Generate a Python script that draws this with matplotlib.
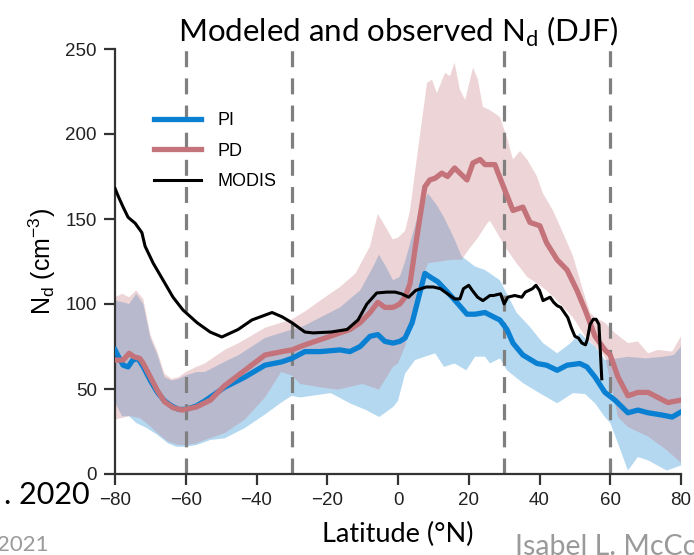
import numpy as np
import matplotlib
matplotlib.use('Agg')
import matplotlib.pyplot as plt

# colours
c_pi = '#0a80d2'
c_pd = '#c4737a'
c_grey = '#7f7f7f'

# MODIS (black)
lat_modis = [-80, -79, -77.7, -76.3, -74.3, -72.4, -71.5, -69.2, -66.4, -63.6,
             -60.8, -56.8, -53.1, -49.8, -45.2, -41.3, -35.6, -32.8, -30, -26.3,
             -24, -19, -14.4, -11.3, -8.8, -6, -3.1, -0.8, 1, 3,
             5, 8, 10, 12, 14, 16, 17.5, 18.5, 20, 21,
             22.5, 24, 26, 27, 29, 30, 31, 33, 35, 36,
             38, 39, 40, 41, 42, 43, 44, 45, 46, 47,
             48, 49, 50, 51, 52, 53, 53.5, 54.3, 55.2, 56,
             56.8, 57.6]
nd_modis = [168, 163, 157, 151, 147.5, 142, 134, 124, 114, 104,
            96.5, 89, 83.5, 80.6, 85, 90.6, 95, 92.5, 89, 83.5,
            83, 83.5, 85, 90.6, 100, 106.5, 107, 107, 106, 104,
            108, 110, 110, 109, 106, 103, 103, 109, 111, 108,
            104, 102, 105, 105, 106, 100, 104, 105, 104, 107,
            109, 111, 108, 102, 103, 104, 101, 99, 98, 95,
            92, 86, 81, 80, 77, 76, 79, 88, 91, 91,
            88, 56]

# PI mean
lat_pi = [-80, -79, -77.7, -76.3, -75, -73.5, -72, -70, -68, -66,
          -64, -62, -60, -57, -54.6, -49, -43.3, -37.6, -32.8, -30,
          -26.3, -22, -16.4, -13.6, -10.7, -7.9, -5.7, -3.7, -1.4, 0.5,
          2, 4, 5.6, 7.6, 9, 11.3, 14, 17, 19.5, 21.8,
          24.6, 27.4, 28.8, 30.8, 32.5, 35.3, 39.3, 42, 45, 47.8,
          51.4, 53.4, 55.7, 58.5, 61.3, 65, 67.8, 70.7, 74.6, 77.5,
          80]
nd_pi = [73, 69, 64, 63, 67, 68, 63, 55, 48, 43,
         40, 38, 38, 40, 43, 51, 57, 64, 66, 68,
         72, 72, 73, 72, 75, 81, 82, 78, 77, 78,
         80, 89, 102, 118, 116, 113, 107, 100, 94, 94,
         95, 92, 90.6, 85, 77, 70, 65, 64, 61, 64,
         65, 63, 57, 48, 43.5, 36, 37.6, 36, 34.7, 33.5,
         36.5]

# PD mean
lat_pd = [-80, -77.7, -76, -74.7, -73, -72, -70, -68, -66, -63.6,
          -61, -57, -53, -49, -43.3, -37.6, -32.8, -30, -26.3, -22,
          -16.4, -13.6, -10.7, -7.9, -5.7, -3.7, -1.4, 0.5, 2, 3.4,
          4.8, 6.2, 7.6, 9, 10.5, 12.4, 14, 16, 18, 19.5,
          21.2, 23.2, 24.6, 27.4, 28.3, 30.2, 32.5, 35.3, 37.3, 40.1,
          42, 45, 47.8, 50.6, 53, 55.7, 58.5, 60, 62.2, 65,
          67.8, 70.7, 73.5, 76.3, 80]
nd_pd = [67, 67, 71, 69, 68, 65, 57, 49, 42.5, 39,
         37.6, 39.4, 43.5, 52, 61, 70, 72, 73, 76, 79,
         83, 85, 89, 95, 101, 98, 98, 100, 104, 112,
         132, 151, 169, 173, 174, 177, 175, 180, 176, 173,
         183, 185, 182, 182, 177, 167, 155, 157, 148, 146,
         136, 126, 120, 108, 96, 81, 73, 70, 57, 46,
         48, 48, 45, 42, 43.5]

# PI spread
lat_pi_hi = [-80, -77.7, -76, -74, -72, -70, -68, -66, -64, -62,
             -60, -57, -54.6, -49, -45, -37.6, -30, -27.7, -22, -16.4,
             -10.7, -7, -5.4, -3.4, -1.4, 0.5, 2, 4, 6, 8.5,
             11, 13, 16, 18, 19.3, 21.8, 24.6, 27.4, 28.8, 30.8,
             33.5, 37.3, 41, 45, 48.8, 51.4, 54, 55.7, 58.5, 62,
             65, 70, 75, 78, 80]
pi_hi = [102, 101, 100, 106, 100, 80, 70, 57, 55, 56,
         58, 60, 60, 66, 70, 80, 85, 86, 92, 98,
         108, 122, 129, 122, 114, 116, 125, 140, 155, 165,
         158, 151, 138, 128, 126, 122, 120, 116, 114, 106,
         95, 86.5, 77, 71, 77, 83, 78, 75, 67, 68,
         69, 68, 69, 70, 75]
lat_pi_lo = [-80, -78, -76, -74, -71, -68, -65, -62.6, -60, -57,
             -53, -49, -43.3, -37.6, -33, -30, -27.7, -19, -13.6, -9,
             -5.3, -1.4, 0, 2, 4.8, 7.6, 10.5, 13, 16, 19.3,
             21.8, 24.6, 26, 28.8, 30.8, 35.3, 40, 45, 49.5, 52.9,
             55.7, 58.5, 60, 62.2, 65, 67.8, 70.7, 76, 80]
pi_lo = [42, 34, 34, 30, 27, 23, 18, 16, 16, 17,
         20, 21, 27, 35, 42, 46, 45, 47.6, 41.6, 37.6,
         33.5, 39.4, 43, 59, 67, 69, 71, 63, 65, 61,
         69, 69, 65, 68, 61, 53.5, 47.6, 41.6, 47.6, 47,
         41.6, 33.5, 30, 18, 2, 10, 8, 2, 5]

# PD spread
lat_pd_hi = [-80, -78, -76, -74, -72, -70, -68, -66, -64, -62,
             -60, -57, -54.6, -49, -45, -37.6, -30, -26, -22, -16.4,
             -12, -7.9, -5.7, -3.4, -1.5, 0, 2, 3.4, 5.6, 8.2,
             9.6, 11, 13.3, 14.7, 16, 17.5, 19, 21.2, 22.6, 24,
             26, 28.8, 30.8, 32.5, 34.5, 36.5, 39.3, 41, 43.8, 46.6,
             49.5, 52.3, 54.3, 55.7, 58.5, 61.3, 65, 67.8, 70.7, 73.5,
             77.5, 80]
pd_hi = [104, 106, 104, 108, 103, 82, 72, 59, 56, 57,
         60, 63, 65, 73, 77, 86, 91, 96, 102, 110,
         118, 134, 153, 145, 138, 139, 143, 155, 190, 230,
         232, 224, 236, 234, 242, 226, 220, 239, 232, 216,
         214, 210, 198, 185, 190, 185, 175, 165, 155, 142,
         128, 108, 95, 92, 89, 83, 77, 78, 71, 73,
         72, 81]
lat_pd_lo = [-80, -78, -76, -73, -70, -68, -65, -62, -60, -57,
             -54.6, -49, -43.3, -37.6, -33, -30, -27.7, -22, -17, -10,
             -5.4, -1.4, 0, 2, 4, 6, 8.5, 12, 15, 18,
             20, 22.6, 25.3, 26, 28.8, 30.8, 33.5, 36.5, 39.3, 42,
             45, 49.5, 52.9, 55.7, 58.5, 60, 62.2, 65, 70.7, 76,
             80]
pd_lo = [32, 33, 34, 33, 28, 24, 19, 17, 17, 18,
         20, 24, 32, 45, 60, 58, 53, 51, 49.6, 53,
         49.6, 63, 65, 75, 92, 110, 124, 125, 126, 126,
         132, 139, 147.6, 149, 139, 132, 124, 116, 112, 108,
         102, 92, 81, 75, 69, 55, 33.5, 27.6, 22, 14,
         6.5]

vlines = [-60, -30, 30, 60]
xticks = [-80, -60, -40, -20, 0, 20, 40, 60, 80]
yticks = [0, 50, 100, 150, 200, 250]


def band(ax, lx_hi, y_hi, lx_lo, y_lo, color):
    xs = np.concatenate([lx_hi, lx_lo[::-1]])
    ys = np.concatenate([y_hi, y_lo[::-1]])
    ax.fill(xs, ys, color=color, alpha=0.3, lw=0)


fig = plt.figure(figsize=(6.94, 5.55), dpi=100)
ax = fig.add_axes([115/694, 1 - 474/555, 566/694, 425/555])

band(ax, lat_pi_hi, pi_hi, lat_pi_lo, pi_lo, c_pi)
band(ax, lat_pd_hi, pd_hi, lat_pd_lo, pd_lo, c_pd)

for v in vlines:
    ax.axvline(v, color=c_grey, lw=2.3, ls=(0, (5, 3.5)), zorder=2)

ax.plot(lat_pi, nd_pi, color=c_pi, lw=3.8, label='PI', zorder=3,
        solid_joinstyle='round')
ax.plot(lat_pd, nd_pd, color=c_pd, lw=3.8, label='PD', zorder=4,
        solid_joinstyle='round')
ax.plot(lat_modis, nd_modis, color='k', lw=2.2, label='MODIS', zorder=5,
        solid_joinstyle='round')

ax.set_xlim(-80, 80)
ax.set_ylim(0, 250)
ax.set_xticks(xticks)
ax.set_yticks(yticks)
ax.set_xticklabels(['\u221280', '\u221260', '\u221240', '\u221220', '0',
                    '20', '40', '60', '80'])

for s in ['top', 'right']:
    ax.spines[s].set_visible(False)
for s in ['left', 'bottom']:
    ax.spines[s].set_linewidth(1.6)
    ax.spines[s].set_color('#333333')
ax.tick_params(length=8, width=1.6, color='#333333', labelsize=13.5,
               labelcolor='#222222', pad=5)
for lab in ax.get_xticklabels() + ax.get_yticklabels():
    lab.set_family('Liberation Sans')

ax.set_xlabel('Latitude (\u00b0N)', fontsize=19.5, family='Lato', labelpad=9)
ax.set_ylabel('N$_\\mathregular{d}$ (cm$^\\mathregular{-3}$)', fontsize=18,
              family='Liberation Sans', labelpad=5)
ax.set_title('Modeled and observed N$_\\mathregular{d}$ (DJF)', fontsize=22.5,
             family='Lato', pad=4)

leg = ax.legend(loc='upper left', bbox_to_anchor=(0.04, 0.89), frameon=False,
                prop={'family': 'Liberation Sans', 'size': 13},
                handlelength=2.6, labelspacing=0.75, handletextpad=0.9)

# bits of the slide around the figure
fig.text(90/694, 1 - 495/555, '. 2020', fontsize=22, family='Lato',
         ha='right', va='center')
fig.text(-0.005, 1 - 545/555, '2021', fontsize=16, family='Lato',
         color='#9a9a9a', ha='left', va='center')
fig.text(515/694, 1 - 547/555, 'Isabel L. McCoy', fontsize=20.5, family='Lato',
         color='#9a9a9a', ha='left', va='center')

fig.savefig('out.png', dpi=100)
